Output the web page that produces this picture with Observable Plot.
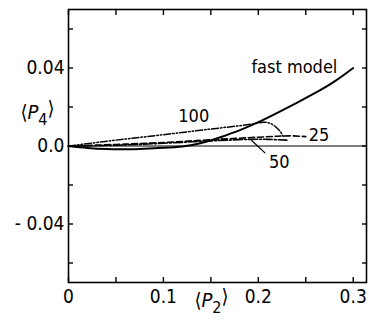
<!DOCTYPE html>
<html><head><meta charset="utf-8">
<script src="https://cdn.jsdelivr.net/npm/d3@7"></script>
<script src="https://cdn.jsdelivr.net/npm/@observablehq/plot@0.6"></script>
<style>body{margin:0;background:#fff}</style>
</head><body><div id="chart"></div>
<script>
const xTicks = [0, 0.05, 0.1, 0.15, 0.2, 0.25, 0.3];
const xLabels = [0, 0.1, 0.2, 0.3];
const yTicks = [-0.06, -0.04, -0.02, 0, 0.02, 0.04, 0.06];
const yLabels = [-0.04, 0, 0.04];

const fastX = [0, 0.02, 0.04, 0.06, 0.08, 0.10, 0.12, 0.14, 0.16, 0.18, 0.20, 0.22, 0.24, 0.26, 0.28, 0.30];
const fastY = [0, -0.001, -0.0016, -0.0017, -0.0014, -0.0009, -0.0002, 0.0015, 0.0045, 0.008, 0.0122, 0.017, 0.022, 0.0272, 0.033, 0.040];

const s100X = [0, 0.05, 0.10, 0.15, 0.19, 0.205, 0.213, 0.219, 0.224, 0.227];
const s100Y = [0, 0.003, 0.0058, 0.0087, 0.011, 0.0122, 0.0115, 0.0095, 0.0068, 0.004];

const s25X = [0, 0.05, 0.10, 0.15, 0.20, 0.22, 0.235, 0.25];
const s25Y = [0, 0.0008, 0.0018, 0.0032, 0.0045, 0.005, 0.0052, 0.0048];

const s50X = [0, 0.05, 0.10, 0.15, 0.19, 0.21, 0.23];
const s50Y = [0, 0.0004, 0.0014, 0.0026, 0.0034, 0.0034, 0.003];

const leader50X = [0.193, 0.207];
const leader50Y = [0.0028, -0.0035];

const labelText = ["fast model", "100", "25", "50"];
const labelX = [0.238, 0.132, 0.264, 0.222];
const labelY = [0.0405, 0.0155, 0.0055, -0.0085];

const zip = (xs, ys) => xs.map((x, i) => ({x, y: ys[i]}));
const font = "'DejaVu Sans Condensed', 'DejaVu Sans', sans-serif";

const chart = Plot.plot({
  width: 369, height: 322,
  marginLeft: 68, marginRight: 3, marginTop: 9, marginBottom: 40,
  style: {fontFamily: font, fontSize: "19px", color: "#000", background: "#fff"},
  x: {domain: [0, 0.314], axis: null},
  y: {domain: [-0.07, 0.07], axis: null},
  marks: [
    Plot.frame({stroke: "#000", strokeWidth: 1.6}),
    Plot.ruleY([0], {stroke: "#000", strokeWidth: 1.2}),
    Plot.axisX(xTicks, {anchor: "bottom", tickSize: 5, dy: -5, tickFormat: () => "", label: null, strokeWidth: 1.4}),
    Plot.axisX(xTicks, {anchor: "top", tickSize: 5, dy: 5, tickFormat: () => "", label: null, strokeWidth: 1.4}),
    Plot.axisY(yTicks, {anchor: "left", tickSize: 5, dx: 5, tickFormat: () => "", label: null, strokeWidth: 1.4}),
    Plot.axisY(yTicks, {anchor: "right", tickSize: 5, dx: -5, tickFormat: () => "", label: null, strokeWidth: 1.4}),
    Plot.axisX(xLabels, {anchor: "bottom", tickSize: 0, tickPadding: 7, label: null, fontSize: 19,
      tickFormat: d => d === 0 ? "0" : d.toFixed(1)}),
    Plot.axisY(yLabels, {anchor: "left", tickSize: 0, tickPadding: 4, label: null, fontSize: 19,
      tickFormat: d => d === 0 ? "0.0" : d < 0 ? "- " + Math.abs(d).toFixed(2) : d.toFixed(2)}),
    Plot.line(zip(fastX, fastY), {x: "x", y: "y", stroke: "#000", strokeWidth: 2, curve: "natural"}),
    Plot.line(zip(s100X, s100Y), {x: "x", y: "y", stroke: "#000", strokeWidth: 1.5, curve: "natural", strokeDasharray: "7,2,1.5,2,1.5,2"}),
    Plot.line(zip(s25X, s25Y), {x: "x", y: "y", stroke: "#000", strokeWidth: 1.6, curve: "natural", strokeDasharray: "6,3"}),
    Plot.line(zip(s50X, s50Y), {x: "x", y: "y", stroke: "#000", strokeWidth: 1.6, curve: "natural", strokeDasharray: "9,2,2,2"}),
    Plot.line(zip(leader50X, leader50Y), {x: "x", y: "y", stroke: "#000", strokeWidth: 1.2}),
    Plot.text(labelText.map((t, i) => ({t, x: labelX[i], y: labelY[i]})), {x: "x", y: "y", text: "t", fontSize: 18, fill: "#000"}),
    Plot.text(["P4"], {frameAnchor: "top-left", dx: -31, dy: 95, text: d => d, fontSize: 20, textAnchor: "middle", className: "lab-p4"}),
    Plot.text(["P2"], {frameAnchor: "bottom-left", dx: 143, dy: 24, text: d => d, fontSize: 20, textAnchor: "middle", className: "lab-p2"})
  ]
});
document.getElementById("chart").appendChild(chart);

// Build the ⟨P_n⟩ axis labels with italic P and subscript digit
for (const [cls, sub] of [["lab-p4", "4"], ["lab-p2", "2"]]) {
  d3.select(chart).selectAll("g." + cls + " text").each(function() {
    const t = d3.select(this);
    t.text(null);
    t.append("tspan").text("\u27E8");
    t.append("tspan").attr("font-style", "italic").text("P");
    t.append("tspan").attr("dy", "0.4em").attr("font-size", "16px").text(sub);
    t.append("tspan").attr("dy", "-0.5em").text("\u27E9");
  });
}
</script>
</body></html>
